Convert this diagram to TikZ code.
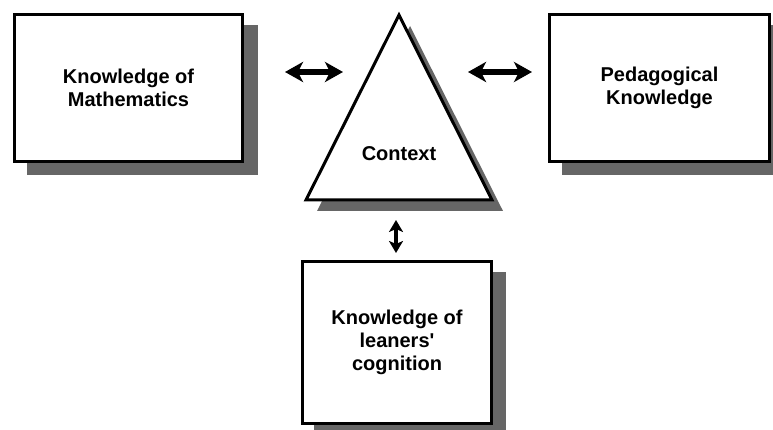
\documentclass[tikz,border=0pt]{standalone}
\usepackage{fontspec}
\setmainfont{Liberation Sans}
\usetikzlibrary{arrows.meta,backgrounds}
\begin{document}
\begin{tikzpicture}[x=1pt,y=-1pt,
  box/.style={draw=black, line width=3pt, fill=white, align=center,
    font=\bfseries\fontsize{20}{23}\selectfont, inner sep=0pt},
  shadowfill/.style={fill=black!60},
  lbl/.style={font=\bfseries\fontsize{20}{23}\selectfont, inner sep=0pt},
  dbl/.style={line width=6pt, {Stealth[length=18pt,width=20pt,inset=5pt]}-{Stealth[length=18pt,width=20pt,inset=5pt]}},
  dblsmall/.style={line width=4pt, {Stealth[length=12pt,width=14pt,inset=3pt]}-{Stealth[length=12pt,width=14pt,inset=3pt]}},
]
\useasboundingbox (0,0) rectangle (773,430);

% boxes
\node[box, minimum width=228pt, minimum height=147pt] (math) at (128.5,88) {Knowledge of\\Mathematics};
\node[box, minimum width=220pt, minimum height=147pt] (ped) at (659.5,88) {Pedagogical\\Knowledge};
\node[box, minimum width=189pt, minimum height=162pt] (cog) at (397,342.5) {Knowledge of\\leaners\textquotesingle\\cognition};

% triangle
\coordinate (tA) at (399,15);
\coordinate (tL) at (306,200);
\coordinate (tR) at (492,200);
\draw[line width=3pt, fill=white, line join=miter] (tA) -- (tL) -- (tR) -- cycle;
\node[lbl] (ctx) at (399,154) {Context};

% shadows
\begin{scope}[on background layer]
  \fill[shadowfill] ([shift={(14pt,-12pt)}]math.south west) rectangle ([shift={(14pt,-12pt)}]math.north east);
  \fill[shadowfill] ([shift={(14pt,-12pt)}]ped.south west) rectangle ([shift={(14pt,-12pt)}]ped.north east);
  \fill[shadowfill] ([shift={(13pt,-12pt)}]cog.south west) rectangle ([shift={(13pt,-12pt)}]cog.north east);
  \fill[shadowfill] ([shift={(11pt,-11pt)}]tA) -- ([shift={(11pt,-11pt)}]tL) -- ([shift={(11pt,-11pt)}]tR) -- cycle;
\end{scope}

% connectors
\coordinate (a1) at (285,72);
\coordinate (a2) at (343,72);
\coordinate (b1) at (468,72);
\coordinate (b2) at (532,72);
\coordinate (c1) at (396,220);
\coordinate (c2) at (396,253);
\draw[dbl] (a1) -- (a2);
\draw[dbl] (b1) -- (b2);
\draw[dblsmall] (c1) -- (c2);
\end{tikzpicture}
\end{document}
